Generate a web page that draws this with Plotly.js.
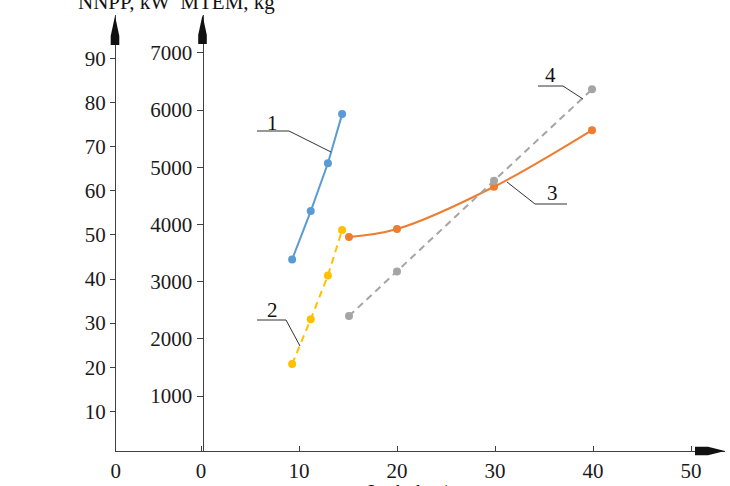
<!DOCTYPE html>
<html>
<head>
<meta charset="utf-8">
<script src="https://cdn.plot.ly/plotly-3.0.1.min.js"></script>
<style>html,body{margin:0;padding:0;background:#fff;}#chart{width:730px;height:486px;}</style>
</head>
<body>
<div id="chart"></div>
<script>
// ---- data ----
var xShort = [9.3, 11.2, 12.95, 14.4];          // curves 1 and 2
var xLong = [15.1, 20, 29.9, 39.9];             // curves 3 and 4
var curve1_M = [3390, 4235, 5070, 5930];        // MTEM, kg (solid blue)
var curve2_N = [20.7, 30.9, 40.8, 51.1];        // NNPP, kW (dashed yellow)
var curve3_M = [3780, 3920, 4660, 5650];        // MTEM, kg (solid orange)
var curve4_N = [31.6, 41.7, 62.3, 83.0];        // NNPP, kW (dashed gray)
var xTickVals = [-8.7, 0, 10, 20, 30, 40, 50];
var xTickText = ['0', '0', '10', '20', '30', '40', '50'];
var mTicks = [1000, 2000, 3000, 4000, 5000, 6000, 7000];
var nTicks = [10, 20, 30, 40, 50, 60, 70, 80, 90];
var curveLabels = ['1', '2', '3', '4'];

// ---- geometry helpers (pixel -> paper) ----
var L = 115, R = 725, T = 15, B = 451;
function px(x) { return (x - L) / (R - L); }
function py(y) { return (B - y) / (B - T); }
function poly(pts) {
  return 'M' + pts.map(function (p) { return px(p[0]) + ',' + py(p[1]); }).join(' L') + ' Z';
}
function seg(pts) {
  return 'M' + pts.map(function (p) { return px(p[0]) + ',' + py(p[1]); }).join(' L');
}

var FONT = 'Liberation Serif, Times New Roman, serif';

var traces = [
  {x: xShort, y: curve1_M, yaxis: 'y', mode: 'lines+markers', type: 'scatter',
   line: {color: '#5B9BD5', width: 2}, marker: {color: '#5B9BD5', size: 8}},
  {x: xShort, y: curve2_N, yaxis: 'y2', mode: 'lines+markers', type: 'scatter',
   line: {color: '#FFC000', width: 2, dash: '7px,5px'}, marker: {color: '#FFC000', size: 8}},
  {x: xLong, y: curve3_M, yaxis: 'y', mode: 'lines+markers', type: 'scatter',
   line: {color: '#ED7D31', width: 2, shape: 'spline', smoothing: 1}, marker: {color: '#ED7D31', size: 8}},
  {x: xLong, y: curve4_N, yaxis: 'y2', mode: 'lines+markers', type: 'scatter',
   line: {color: '#A5A5A5', width: 2, dash: '7px,5px'}, marker: {color: '#A5A5A5', size: 8}}
];

var leaderColor = '#333';
var shapes = [
  // arrowheads
  {type: 'path', xref: 'paper', yref: 'paper', path: poly([[115, 16], [119.3, 36], [119.3, 45], [110.7, 45], [110.7, 36]]), fillcolor: '#111', line: {width: 0}},
  {type: 'path', xref: 'paper', yref: 'paper', path: poly([[202.5, 15], [206.8, 35], [206.8, 44], [198.2, 44], [198.2, 35]]), fillcolor: '#111', line: {width: 0}},
  {type: 'path', xref: 'paper', yref: 'paper', path: poly([[695, 446.8], [708, 446.8], [725, 451], [708, 455.2], [695, 455.2]]), fillcolor: '#111', line: {width: 0}},
  // leader lines
  {type: 'path', xref: 'paper', yref: 'paper', path: seg([[257, 131], [289, 131], [331, 152]]), line: {color: leaderColor, width: 1}},
  {type: 'path', xref: 'paper', yref: 'paper', path: seg([[257, 320], [286, 320], [300, 346]]), line: {color: leaderColor, width: 1}},
  {type: 'path', xref: 'paper', yref: 'paper', path: seg([[507, 182], [535, 204], [567, 204]]), line: {color: leaderColor, width: 1}},
  {type: 'path', xref: 'paper', yref: 'paper', path: seg([[538, 86], [563, 86], [583, 99]]), line: {color: leaderColor, width: 1}}
];

var labelPos = [[272, 123], [272, 310], [552, 193], [550, 75]];
var annotations = curveLabels.map(function (t, i) {
  return {text: t, xref: 'paper', yref: 'paper', x: px(labelPos[i][0]), y: py(labelPos[i][1]),
          xanchor: 'center', yanchor: 'middle', showarrow: false,
          font: {family: FONT, size: 21, color: '#111'}};
});
annotations.push({text: 'NNPP, kW  MTEM, kg', xref: 'paper', yref: 'paper', x: px(76), y: py(2),
  xanchor: 'left', yanchor: 'middle', showarrow: false, font: {family: FONT, size: 21, color: '#111'}});
annotations.push({text: 'L, th. km/yr', xref: 'paper', yref: 'paper', x: px(366), y: py(492),
  xanchor: 'left', yanchor: 'middle', showarrow: false, font: {family: FONT, size: 20, color: '#111'}});

var tickFont = {family: FONT, size: 21, color: '#1a1a1a'};
var layout = {
  width: 730, height: 486,
  margin: {l: L, r: 730 - R, t: T, b: 486 - B, pad: 0},
  paper_bgcolor: '#fff', plot_bgcolor: '#fff',
  showlegend: false,
  xaxis: {range: [(L - 201) / 9.8, (R - 201) / 9.8], showgrid: false, zeroline: false,
          showline: true, linecolor: '#404040', linewidth: 1.3,
          tickmode: 'array', tickvals: xTickVals, ticktext: xTickText,
          ticks: 'inside', ticklen: 5, tickcolor: '#404040', tickfont: tickFont, ticklabelstandoff: 0},
  yaxis: {range: [40, 7663], anchor: 'free', position: px(202.5), side: 'left',
          showgrid: false, zeroline: false, showline: true, linecolor: '#404040', linewidth: 1.3,
          tickmode: 'array', tickvals: mTicks, ticks: 'outside', ticklen: 6, tickcolor: '#404040',
          tickfont: tickFont},
  yaxis2: {range: [1.0, 99.86], overlaying: 'y', anchor: 'free', position: 0, side: 'left',
           showgrid: false, zeroline: false, showline: true, linecolor: '#404040', linewidth: 1.3,
           tickmode: 'array', tickvals: nTicks, ticks: 'outside', ticklen: 5, tickcolor: '#404040',
           tickfont: tickFont},
  shapes: shapes,
  annotations: annotations
};

Plotly.newPlot('chart', traces, layout, {displayModeBar: false, staticPlot: true});
</script>
</body>
</html>
